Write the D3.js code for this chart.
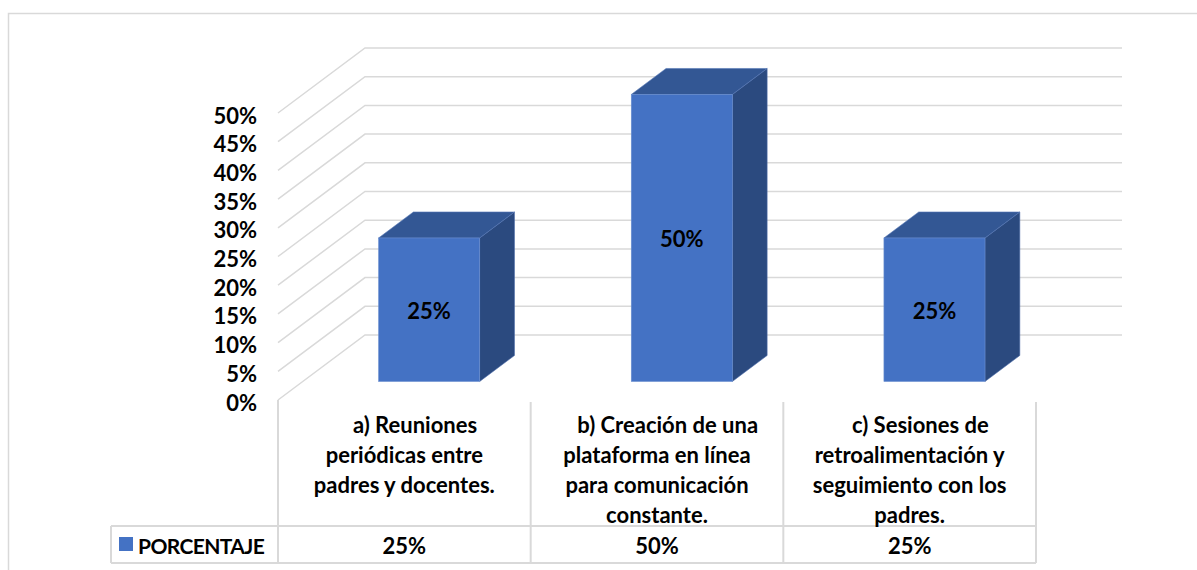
<!DOCTYPE html>
<html><head><meta charset="utf-8">
<script src="https://cdn.jsdelivr.net/npm/d3@7"></script>
<style>
html,body{margin:0;padding:0;background:#fff;}
svg text{font-family:Lato,"Open Sans",sans-serif;font-weight:bold;fill:#000;white-space:pre;}
</style>
</head><body>
<svg id="chart" width="1197" height="570"></svg>
<script>
// ---- data ----
const categories = ["a","b","c"];
const categoryLabels = [
  ["    a) Reuniones", "periódicas entre", "padres y docentes."],
  ["    b) Creación de una", "plataforma en línea", "para comunicación", "constante."],
  ["    c) Sesiones de", "retroalimentación y", "seguimiento con los", "padres."]
];
const seriesName = "PORCENTAJE";
const values = [0.25, 0.50, 0.25];
const tickValues = [0, 0.05, 0.10, 0.15, 0.20, 0.25, 0.30, 0.35, 0.40, 0.45, 0.50];

// ---- layout ----
const svg = d3.select("#chart");
const FONT = 22;
const left = 278, right = 1036, floorY = 400;
const depthX = 87, depthY = -65;      // full floor depth vector
const barT0 = 0.285, barT1 = 0.685;   // bar depth range
const pct = d3.format(".0%");

const xCol = d3.scaleBand().domain(categories).range([left, right]);
const xBar = d3.scaleBand().domain(categories).range([left, right]).paddingInner(0.6).paddingOuter(0.3);
const y = d3.scaleLinear().domain([0, 0.5]).range([floorY, floorY - 287]);

const grid = "#d9d9d9";

// outer border
svg.append("rect").attr("x", 8.5).attr("y", 13.5).attr("width", 1200).attr("height", 600)
  .attr("fill", "none").attr("stroke", grid).attr("stroke-width", 1.5);

// gridlines: left wall diagonal + back wall horizontal
const g = svg.append("g").attr("stroke", grid).attr("stroke-width", 1.5).attr("fill", "none");
tickValues.forEach(v => {
  const yf = y(v), yb = y(v) + depthY;
  g.append("path").attr("d", d3.line()([[left, yf], [left + depthX, yb], [1122, yb]]));
});

// y tick labels
svg.append("g").selectAll("text").data(tickValues).join("text")
  .attr("x", 257).attr("y", d => y(d) + 2)
  .attr("text-anchor", "end").attr("dominant-baseline", "central")
  .attr("font-size", FONT).text(d => pct(d));

// bars
const bars = svg.append("g");
values.forEach((v, i) => {
  const c = categories[i];
  const x0 = xBar(c) + depthX * barT0, x1 = x0 + xBar.bandwidth();
  const yb = y(0) + depthY * barT0, yt = y(v) + depthY * barT0;
  const dx = depthX * (barT1 - barT0), dy = depthY * (barT1 - barT0);
  // side
  bars.append("path").attr("d", d3.line()([[x1, yt], [x1 + dx, yt + dy], [x1 + dx, yb + dy], [x1, yb]]) + "Z")
    .attr("fill", "#2B4A7F").attr("stroke", "#4a6aa8").attr("stroke-width", 0.6);
  // top
  bars.append("path").attr("d", d3.line()([[x0, yt], [x1, yt], [x1 + dx, yt + dy], [x0 + dx, yt + dy]]) + "Z")
    .attr("fill", "#335794").attr("stroke", "#5577b5").attr("stroke-width", 0.6);
  // front
  bars.append("rect").attr("x", x0).attr("y", yt).attr("width", x1 - x0).attr("height", yb - yt)
    .attr("fill", "#4472C4").attr("stroke", "#6a8fd0").attr("stroke-width", 0.6);
  bars.append("text").attr("x", (x0 + x1) / 2).attr("y", (yt + yb) / 2 + 1)
    .attr("text-anchor", "middle").attr("dominant-baseline", "central")
    .attr("font-size", FONT).text(pct(v));
});

// data table
const rowTop = 526, rowBot = 563, tableLeft = 111;
const t = svg.append("g").attr("stroke", grid).attr("stroke-width", 2).attr("fill", "none");
[left, ...categories.map(c => xCol(c) + xCol.bandwidth())].forEach((x, i) => {
  t.append("line").attr("x1", x).attr("x2", x).attr("y1", i === 0 ? floorY : floorY + 2).attr("y2", rowBot);
});
t.append("line").attr("x1", tableLeft).attr("x2", right).attr("y1", rowTop).attr("y2", rowTop);
t.append("line").attr("x1", tableLeft).attr("x2", right).attr("y1", rowBot).attr("y2", rowBot);
t.append("line").attr("x1", tableLeft).attr("x2", tableLeft).attr("y1", rowTop).attr("y2", rowBot);

// category labels
categories.forEach((c, i) => {
  const cx = xCol(c) + xCol.bandwidth() / 2;
  svg.append("g").selectAll("text").data(categoryLabels[i]).join("text")
    .attr("x", cx).attr("y", (d, j) => 424 + j * 30)
    .attr("text-anchor", "middle").attr("dominant-baseline", "central")
    .attr("font-size", FONT).text(d => d);
  svg.append("text").attr("x", cx).attr("y", (rowTop + rowBot) / 2 + 1)
    .attr("text-anchor", "middle").attr("dominant-baseline", "central")
    .attr("font-size", FONT).text(pct(values[i]));
});

// legend key in table
svg.append("rect").attr("x", 119).attr("y", 537).attr("width", 14).attr("height", 14).attr("fill", "#4472C4");
svg.append("text").attr("x", 138).attr("y", (rowTop + rowBot) / 2 + 1)
  .attr("dominant-baseline", "central").attr("font-size", FONT - 1).attr("letter-spacing", -0.6).text(seriesName);
</script>
</body></html>
